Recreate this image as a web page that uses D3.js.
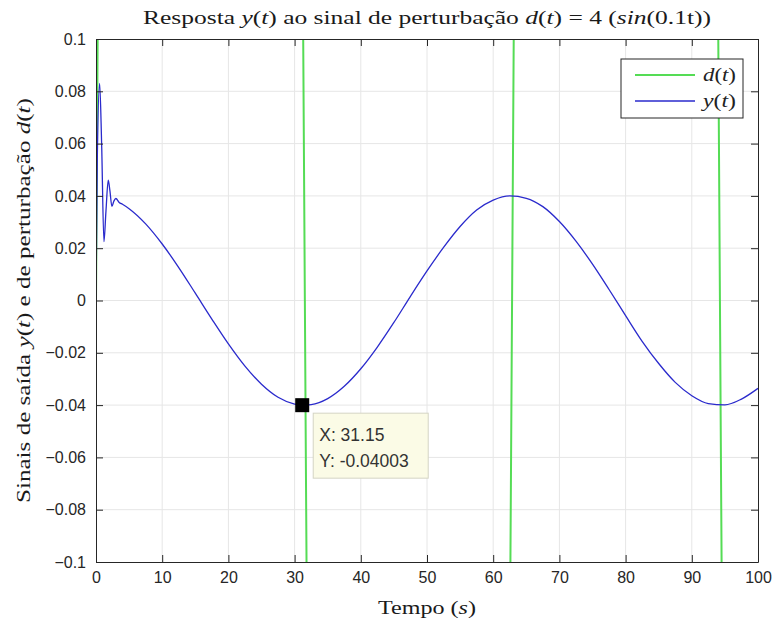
<!DOCTYPE html>
<html>
<head>
<meta charset="utf-8">
<script src="https://cdn.jsdelivr.net/npm/d3@7"></script>
<style>
  body { margin: 0; background: #fff; }
  svg { display: block; }
</style>
</head>
<body>
<svg id="chart"></svg>
<script>
// tempo e sinais
const yTime = [0, 0.2, 0.55, 0.85, 1.2, 1.5, 1.85, 2.1, 2.4, 2.7, 3.0, 3.5, 4, 5,
  7.5, 10, 12.5, 15, 17.5, 20, 22.5, 25, 27.5, 30, 31.15, 32.5, 35, 37.5, 40,
  42.5, 45, 47.5, 50, 52.5, 55, 57.5, 60, 62.5, 65, 67.5, 70, 72.5, 75, 77.5,
  80, 82.5, 85, 87.5, 90, 92.5, 95, 97.5, 100];
const yValues = [0, 0.055, 0.083, 0.06, 0.0225, 0.034, 0.046, 0.042, 0.036, 0.038, 0.039, 0.0375, 0.0368, 0.0351,
  0.0293, 0.0216, 0.0126, 0.0028, -0.0071, -0.0166, -0.0251, -0.0320, -0.0370, -0.0396, -0.04003, -0.0398, -0.0375, -0.0328, -0.0261,
  -0.0178, -0.0084, 0.0016, 0.0113, 0.0203, 0.0283, 0.0346, 0.0384, 0.0400, 0.0391, 0.0359, 0.0302, 0.0227, 0.0139, 0.0042,
  -0.0058, -0.0156, -0.0241, -0.0313, -0.0364, -0.0394, -0.0399, -0.0377, -0.0336];

const dTime = [0, 0.5, 15.71, 31.2, 31.55, 31.9, 47.12, 62.5, 62.85, 63.2, 78.54, 93.9, 94.25, 94.6, 100];
const dValues = [0, 0.2, 4, 0.14, 0, -0.14, -4, -0.14, 0, 0.14, 4, 0.14, 0, -0.14, -2.18];

const xTicks = [0, 10, 20, 30, 40, 50, 60, 70, 80, 90, 100];
const yTicks = [-0.1, -0.08, -0.06, -0.04, -0.02, 0, 0.02, 0.04, 0.06, 0.08, 0.1];

const tip = { x: 31.15, y: -0.04003 };

const W = 775, H = 624;
const margin = { top: 39, right: 17, bottom: 62, left: 96 };
const width = W - margin.left - margin.right;
const height = H - margin.top - margin.bottom;

const svg = d3.select("#chart").attr("width", W).attr("height", H);
const g = svg.append("g").attr("transform", `translate(${margin.left},${margin.top})`);

const x = d3.scaleLinear().domain([0, 100]).range([0, width]);
const y = d3.scaleLinear().domain([-0.1, 0.1]).range([height, 0]);

const axisColor = "#262626";
const sans = "'Liberation Sans', Arial, sans-serif";
const serif = "'Liberation Serif', 'DejaVu Serif', serif";
const green = "#55dc55";
const blue = "#2a2acc";

// grade
g.append("g").selectAll("line").data(xTicks.slice(1, -1)).enter().append("line")
  .attr("x1", d => x(d)).attr("x2", d => x(d)).attr("y1", 0).attr("y2", height)
  .attr("stroke", "#e6e6e6");
g.append("g").selectAll("line").data(yTicks.slice(1, -1)).enter().append("line")
  .attr("x1", 0).attr("x2", width).attr("y1", d => y(d)).attr("y2", d => y(d))
  .attr("stroke", "#e6e6e6");

// curvas
g.append("clipPath").attr("id", "clip").append("rect")
  .attr("width", width).attr("height", height);

const dData = dTime.map((t, i) => [t, dValues[i]]);
const yData = yTime.map((t, i) => [t, yValues[i]]);

g.append("path")
  .datum(dData)
  .attr("clip-path", "url(#clip)")
  .attr("fill", "none")
  .attr("stroke", green)
  .attr("stroke-width", 2)
  .attr("d", d3.line().x(d => x(d[0])).y(d => y(d[1])));

g.append("path")
  .datum(yData)
  .attr("clip-path", "url(#clip)")
  .attr("fill", "none")
  .attr("stroke", blue)
  .attr("stroke-width", 1.3)
  .attr("d", d3.line().curve(d3.curveMonotoneX).x(d => x(d[0])).y(d => y(d[1])));

// eixos (ticks para dentro, nos quatro lados)
const tickLen = 7;
const fmtY = d => d === 0 ? "0" : d3.format("")(+d.toFixed(2));

const xb = g.append("g").attr("transform", `translate(0,${height})`)
  .call(d3.axisBottom(x).tickValues(xTicks).tickSizeInner(-tickLen).tickSizeOuter(0).tickPadding(10));
const xt = g.append("g")
  .call(d3.axisTop(x).tickValues(xTicks).tickSizeInner(-tickLen).tickSizeOuter(0).tickFormat(""));
const yl = g.append("g")
  .call(d3.axisLeft(y).tickValues(yTicks).tickSizeInner(-tickLen).tickSizeOuter(0).tickPadding(10).tickFormat(fmtY));
const yr = g.append("g").attr("transform", `translate(${width},0)`)
  .call(d3.axisRight(y).tickValues(yTicks).tickSizeInner(-tickLen).tickSizeOuter(0).tickFormat(""));

[xb, xt, yl, yr].forEach(a => {
  a.select(".domain").attr("stroke", axisColor);
  a.selectAll(".tick line").attr("stroke", axisColor);
  a.selectAll(".tick text").attr("fill", axisColor).style("font-family", sans).style("font-size", "16px");
});

// legenda
const legend = g.append("g").attr("transform", `translate(${width - 137},20)`);
legend.append("rect")
  .attr("width", 122).attr("height", 59)
  .attr("fill", "#fff").attr("stroke", axisColor);
const legendItems = [
  { name: "d", color: green, w: 2 },
  { name: "y", color: blue, w: 1.3 }
];
const li = legend.selectAll(".item").data(legendItems).enter().append("g")
  .attr("transform", (d, i) => `translate(0,${16 + i * 26})`);
li.append("line").attr("x1", 14).attr("x2", 74)
  .attr("stroke", d => d.color).attr("stroke-width", d => d.w);
const lt = li.append("text").attr("x", 82).attr("y", 6)
  .attr("textLength", 33).attr("lengthAdjust", "spacingAndGlyphs")
  .style("font-family", serif).style("font-size", "18px").attr("fill", "#222");
lt.append("tspan").style("font-style", "italic").text(d => d.name);
lt.append("tspan").text("(");
lt.append("tspan").style("font-style", "italic").text("t");
lt.append("tspan").text(")");

// marcador do datatip
g.append("rect")
  .attr("x", x(tip.x) - 7).attr("y", y(tip.y) - 7)
  .attr("width", 14).attr("height", 14)
  .attr("fill", "#000");
const tipG = g.append("g").attr("transform", `translate(${x(tip.x) + 11},${y(tip.y) + 8})`);
tipG.append("rect")
  .attr("width", 115).attr("height", 65)
  .attr("fill", "#fbfbe6").attr("stroke", "#d4d4c4");
tipG.append("text").attr("x", 6).attr("y", 28)
  .style("font-family", sans).style("font-size", "17.5px").attr("fill", "#333")
  .text(`X: ${tip.x}`);
tipG.append("text").attr("x", 6).attr("y", 54)
  .style("font-family", sans).style("font-size", "17.5px").attr("fill", "#333")
  .text(`Y: ${tip.y}`);

// título
const title = svg.append("text")
  .attr("x", margin.left + width / 2).attr("y", 24)
  .attr("text-anchor", "middle")
  .attr("textLength", 568).attr("lengthAdjust", "spacingAndGlyphs")
  .style("font-family", serif).style("font-size", "19px").attr("fill", "#1a1a1a");
[["Resposta ", 0], ["y", 1], ["(", 0], ["t", 1], [") ao sinal de perturbação ", 0], ["d", 1], ["(", 0], ["t", 1],
 [") = 4 (", 0], ["sin", 1], ["(0.1t))", 0]].forEach(([s, it]) => {
  title.append("tspan").style("font-style", it ? "italic" : "normal").text(s);
});

// rótulo do eixo x
const xlab = svg.append("text")
  .attr("x", margin.left + width / 2).attr("y", 614)
  .attr("text-anchor", "middle")
  .attr("textLength", 98).attr("lengthAdjust", "spacingAndGlyphs")
  .style("font-family", serif).style("font-size", "19px").attr("fill", "#1a1a1a");
xlab.append("tspan").text("Tempo (");
xlab.append("tspan").style("font-style", "italic").text("s");
xlab.append("tspan").text(")");

// rótulo do eixo y
const ylab = svg.append("text")
  .attr("transform", `translate(30,${margin.top + height / 2}) rotate(-90)`)
  .attr("text-anchor", "middle")
  .attr("textLength", 405).attr("lengthAdjust", "spacingAndGlyphs")
  .style("font-family", serif).style("font-size", "18px").attr("fill", "#1a1a1a");
[["Sinais de saída ", 0], ["y", 1], ["(", 0], ["t", 1], [") e de perturbação ", 0], ["d", 1], ["(", 0], ["t", 1], [")", 0]]
  .forEach(([s, it]) => ylab.append("tspan").style("font-style", it ? "italic" : "normal").text(s));
</script>
</body>
</html>
